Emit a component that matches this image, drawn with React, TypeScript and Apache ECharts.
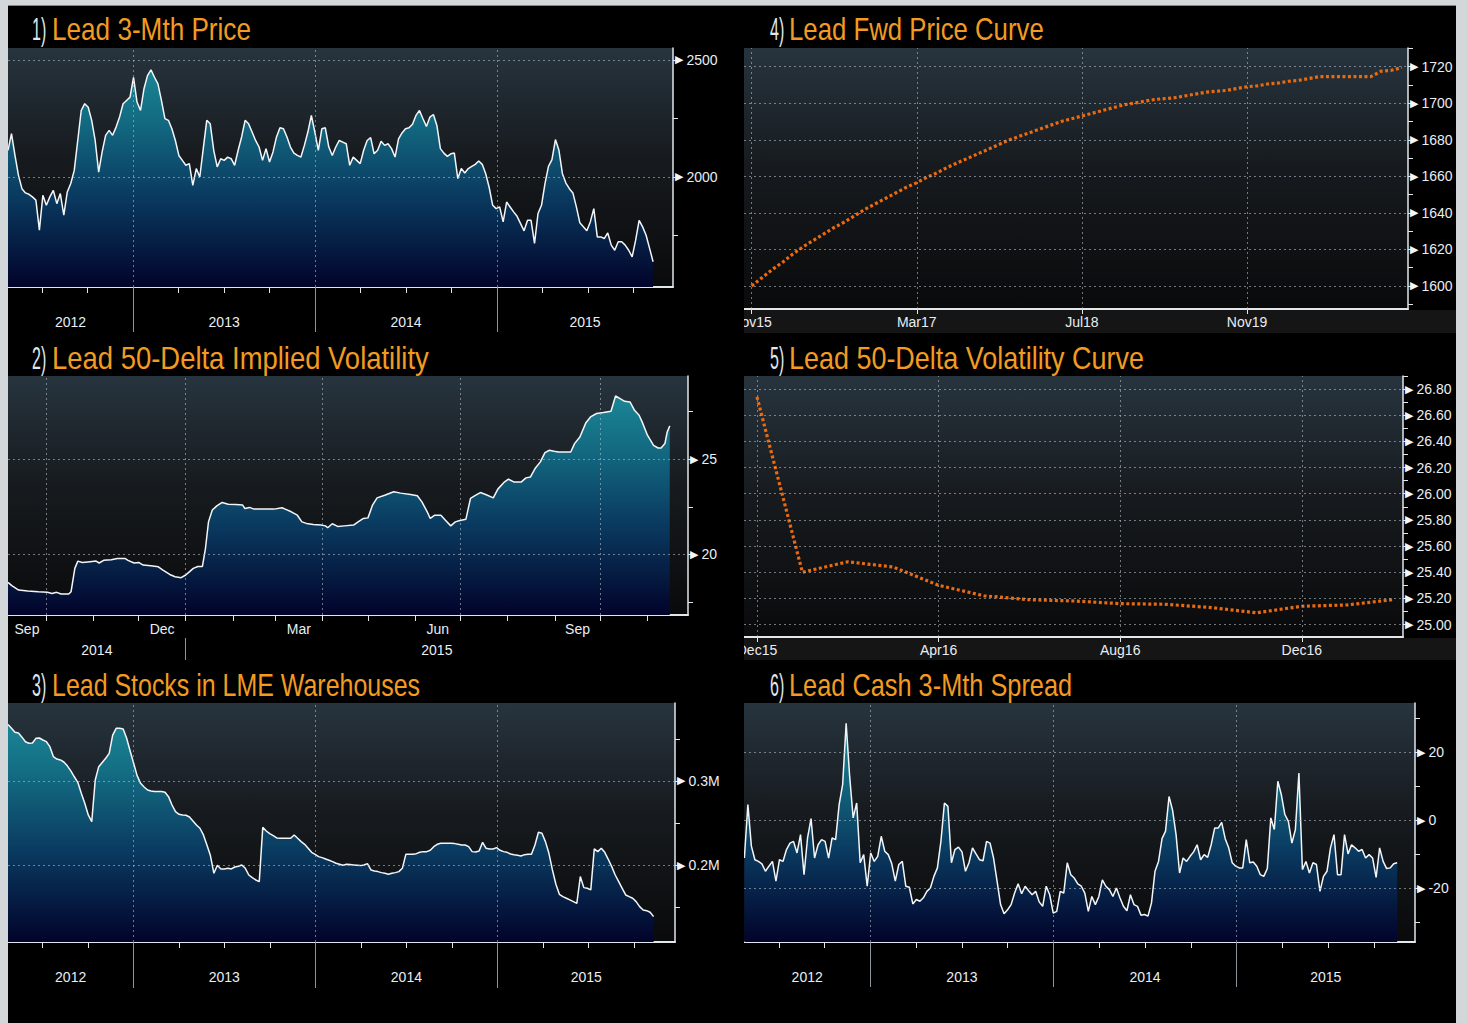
import React, { useEffect, useRef } from 'react';
import * as echarts from 'echarts';

// ---------------- style constants ----------------
const FONT = "'Liberation Sans', Arial, sans-serif";
const AXIS_COLOR = '#e2e7eb';
const LABEL_COLOR = '#e9eef3';
const SEP_COLOR = '#8d949a';
const GRID_LINE = { color: 'rgba(176,184,192,0.62)', type: [2, 3], width: 1 };
const TITLE_COLOR = '#f29b20';
const NUM_COLOR = '#dfe7ef';

// ---------------- data ----------------
// Weekly observations (panels 1, 3, 6) starting late April 2012 (decimal year)
const weeklyStart = 2012.312;
const weekYears = 7 / 365.25;

// 1) Lead 3-Mth price (USD/t), weekly
const priceValues = [
  2114, 2185, 2092, 2007, 1950, 1932, 1926, 1915, 1901, 1773,
  1922, 1879, 1915, 1943, 1886, 1929, 1837, 1936, 1972, 2028,
  2156, 2284, 2313, 2298, 2242, 2156, 2021, 2107, 2178, 2199,
  2178, 2213, 2256, 2313, 2327, 2341, 2426, 2320, 2284, 2377,
  2433, 2458, 2426, 2398, 2327, 2249, 2242, 2206, 2156, 2092,
  2071, 2050, 2057, 1964, 2036, 2000, 2121, 2242, 2227, 2114,
  2043, 2078, 2071, 2085, 2078, 2050, 2114, 2171, 2242, 2227,
  2192, 2156, 2128, 2071, 2121, 2064, 2107, 2171, 2210, 2206,
  2171, 2128, 2102, 2092, 2085, 2135, 2192, 2263, 2192, 2114,
  2206, 2210, 2128, 2092, 2128, 2156,
  2149, 2142, 2050, 2085, 2071, 2057, 2114, 2156, 2168, 2099,
  2114, 2153, 2135, 2142, 2121, 2085, 2163, 2188, 2206, 2210,
  2225, 2263, 2284, 2249, 2216, 2256, 2267, 2220, 2121, 2102,
  2088, 2099, 2102, 1993, 2036, 2017, 2036, 2045, 2054, 2068,
  2054, 2014, 1955, 1879, 1865, 1872, 1808, 1893, 1872, 1851,
  1832, 1801, 1770, 1815, 1815, 1716, 1844, 1879, 1972, 2045,
  2074, 2160, 2114, 2014, 1974, 1950, 1932, 1872, 1804, 1787,
  1770, 1808, 1865, 1744, 1744, 1737, 1761, 1709, 1687, 1723,
  1723, 1709, 1687, 1659, 1730, 1815, 1787, 1751, 1695, 1638,
];

// 3) Lead stocks in LME warehouses (thousand tonnes), weekly
const stockValues = [
  367, 362.5, 357.7, 356.9, 352, 346.6, 344.7, 345, 350.6, 351,
  348.6, 346.6, 340.7, 328.9, 326, 325, 322.5, 318, 312, 305,
  298.4, 285.4, 273.5, 259.7, 251.8, 301.2, 317, 322, 326.9, 332.8,
  354.5, 362.5, 362.5, 361.7, 350.6, 335.6, 321, 306.3, 297.2, 292.9,
  289.3, 288.1, 287.4, 287.4, 287.4, 286.6, 281.4, 271.5, 263.6, 260.5,
  259.7, 259.3, 257.3, 252.6, 247.8, 243.9, 236, 224.1, 211.5, 190.5,
  200, 195.7, 195.7, 196.4, 195.7, 198, 198.8, 200.4, 196.4, 188.5,
  185.4, 182.6, 180.6, 245, 240.7, 237.5, 235.2, 232.4, 232, 232,
  232, 232, 236, 232, 228.1, 224.9, 220.2, 215.4, 213, 210.3,
  209.1, 207.5, 205.9, 204.3, 202.4, 201.2,
  200, 201.2, 200.8, 200.4, 200, 199.6, 200.4, 202, 194.5, 193.3,
  192.5, 191.3, 190.5, 189.3, 190.5, 191.3, 192.5, 196.4, 213, 213,
  213, 213.8, 215.4, 216.2, 216.2, 217.8, 222.1, 224.9, 226.1, 226.1,
  226.1, 226.1, 225.7, 224.9, 224.1, 224.1, 222.1, 216.2, 215.8, 217,
  227.3, 220.2, 219.4, 219.4, 220.9, 217.8, 216.2, 215.4, 213.4, 212.6,
  211.9, 211.1, 212.6, 213, 213, 224.1, 239.1, 237.9, 228.1, 214.2,
  194.5, 177.5, 165.6, 162.8, 160.9, 158.9, 156.9, 154.9, 186.6, 173.5,
  172.7, 170.8, 219.4, 216.2, 220.2, 215.4, 207.1, 198.4, 188.5, 180.6,
  172.7, 164.8, 162.8, 160.9, 156.9, 151, 147, 146.2, 144.3, 139.1,
];

// 6) Lead cash 3-Mth spread (USD/t), weekly
const spreadValues = [
  -11.1, 4.6, -7.6, -11.6, -12.1, -12.8, -15, -13.5, -12.1, -17.9,
  -11.6, -12.1, -8.6, -6.7, -6.2, -9.6, -4.2, -16, -5.2, 0.5,
  -11.1, -7.2, -5.7, -6.2, -11.1, -5.2, -5.7, 4.6, 10.5, 28.5,
  12.9, 0.7, 5.1, -12.5, -10.1, -19.4, -9.6, -12.1, -10.6, -4.7,
  -9.1, -10.1, -12.8, -17.9, -13, -12.1, -19.4, -19.7, -24.6, -23.3,
  -23.8, -22.8, -20.9, -19.9, -16.5, -14, -6.2, 5.1, 4.1, -12.5,
  -8.6, -7.9, -9.3, -15, -12.5, -8.1, -9.9, -11.6, -11.9, -6.2,
  -6.7, -11.1, -17.9, -24.8, -27.5, -26.3, -24.8, -21.4, -18.7, -21.6,
  -19.4, -20.7, -21.9, -20.9, -24, -25.3, -19.4, -21.9, -27.3, -26.8,
  -20.9, -21.4, -12.5, -16, -17, -18.7, -19.4, -21.4,
  -26.8, -22.4, -24.8, -22.4, -17.5, -19.4, -20.4, -22.4, -19.9, -22.8,
  -25.3, -26.6, -21.9, -24.8, -25.3, -27.9, -27.7, -28.2, -24.3, -15,
  -12.1, -5.4, -3.2, 7, 3, -4.2, -15.5, -11.1, -12.1, -10.6,
  -9.3, -7.2, -11.6, -10.1, -10.9, -7.2, -2.3, -2.3, -0.6, -5.4,
  -8.1, -12.5, -13.5, -14, -14, -5.7, -12.5, -12.3, -13.5, -16,
  -16.5, -14.2, 0.7, -2.7, 11.5, 7.5, 1.7, -0.3, -6.7, -2.7,
  13.9, -14.5, -12.1, -15.5, -12.5, -13, -20.9, -16.5, -15, -8.1,
  -4.2, -16, -16, -4.2, -9.9, -7.2, -8.1, -9.1, -8.6, -11.1,
  -10.1, -11.1, -16.8, -8.1, -12.1, -14.2, -14, -12.8, -12.5,
];

// 2) Lead 50-delta implied volatility (%): day offset from 6 Sep 2014
const volDays = [
  0, 2.5, 7, 13, 20, 26, 29, 32, 35, 40, 41.5, 44, 46, 49, 54, 58, 60, 63, 68, 72,
  77, 79, 83, 86, 89, 94, 99, 102, 106.5, 110, 114, 117, 119, 122, 125, 128, 130, 132, 134.5, 137.5,
  141, 145, 150, 154.5, 156, 159, 162, 168.5, 175, 180.5, 182.5, 186.5, 190.5, 193.5, 196.5, 201, 206, 209, 210.5, 213.5,
  217, 221.5, 227.5, 230.5, 234, 237, 240, 243, 248, 254, 258.5, 265, 269.5, 272.5, 276, 278, 281, 285, 288, 291.5,
  294.5, 297.5, 301.5, 303, 304.5, 308, 311, 314.5, 319.5, 322.5, 326.5, 329.5, 333, 338, 341, 344, 347, 350.5, 353.5, 356.5,
  359.5, 362.5, 367.5, 370.5, 373, 376.5, 380.5, 383.5, 387.5, 392, 397, 400, 403, 406, 409.5, 412.5, 415.5, 417.5, 421, 425,
  428, 430, 432.5, 434, 435.7,
];
const volValues = [
  18.53, 18.36, 18.13, 18.08, 18.04, 18.01, 17.95, 18.01, 17.92, 17.92, 18.04, 19.27, 19.65, 19.58, 19.62, 19.65, 19.55, 19.69, 19.72, 19.79,
  19.79, 19.69, 19.55, 19.58, 19.44, 19.41, 19.35, 19.18, 18.95, 18.83, 18.78, 18.92, 19.06, 19.27, 19.37, 19.37, 20.31, 21.71, 22.33, 22.55,
  22.73, 22.64, 22.62, 22.59, 22.41, 22.47, 22.38, 22.38, 22.38, 22.45, 22.38, 22.24, 22.06, 21.71, 21.63, 21.57, 21.54, 21.5, 21.4, 21.61,
  21.47, 21.5, 21.54, 21.71, 21.89, 21.92, 22.59, 22.97, 23.11, 23.29, 23.22, 23.15, 23.08, 22.76, 22.24, 21.89, 22.06, 22.06, 21.8, 21.5,
  21.71, 21.78, 21.85, 22.41, 22.94, 23.11, 23.25, 23.15, 22.97, 23.43, 23.78, 23.95, 23.81, 23.81, 24.02, 24.07, 24.51, 24.86, 25.35, 25.47,
  25.42, 25.38, 25.38, 25.38, 25.82, 26.17, 26.92, 27.22, 27.4, 27.45, 27.52, 28.32, 28.18, 28.04, 28.01, 27.57, 27.31, 26.96, 26.26, 25.73,
  25.59, 25.59, 25.82, 26.43, 26.75,
];
const volLabelMonths = [[2014, 8], [2014, 11], [2015, 2], [2015, 5], [2015, 8]];
const volLabelNames = ['Sep', 'Dec', 'Mar', 'Jun', 'Sep'];

// 4) Lead forward price curve (USD/t), monthly from Nov 2015
const fwdValues = [
  1600, 1604.5, 1609, 1613, 1617.5, 1621.5, 1625, 1628.5, 1632, 1635,
  1638.5, 1642, 1645, 1648, 1651, 1654, 1656.5, 1659.5, 1662, 1665,
  1667.5, 1670, 1672.5, 1675, 1677.5, 1680, 1682, 1684, 1686, 1688,
  1690, 1691.5, 1693, 1694.5, 1696, 1697.5, 1699, 1700, 1701, 1702,
  1702.5, 1703, 1704, 1705, 1706, 1706.5, 1707, 1708, 1709, 1709.5,
  1710.5, 1711, 1712, 1712.5, 1713.5, 1714.5, 1714.5, 1714.5, 1714.5, 1714.5,
  1714.5, 1717.5, 1718, 1719.5,
];
const fwdLabelMonths = [0, 16, 32, 48];
const fwdLabelNames = ['Nov15', 'Mar17', 'Jul18', 'Nov19'];

// 5) Lead 50-delta volatility curve (%), monthly from Dec 2015
const volCurveValues = [26.74, 25.4, 25.48, 25.44, 25.3, 25.22, 25.19, 25.18, 25.16, 25.155, 25.13, 25.09, 25.14, 25.15, 25.19];
const volCurveLabelMonths = [0, 4, 8, 12];
const volCurveLabelNames = ['Dec15', 'Apr16', 'Aug16', 'Dec16'];

// Y tick / label values
const priceTickValues = [1750, 2000, 2250, 2500];
const priceLabelValues = [2000, 2500];
const stockTickValues = [150, 200, 250, 300, 350];
const stockLabelValues = [200, 300];
const spreadTickValues = [-30, -20, -10, 0, 10, 20, 30];
const spreadLabelValues = [-20, 0, 20];
const volTickValues = [17.5, 20, 22.5, 25, 27.5];
const volLabelValues = [20, 25];
const fwdTickValues = [1590, 1600, 1610, 1620, 1630, 1640, 1650, 1660, 1670, 1680, 1690, 1700, 1710, 1720, 1730];
const fwdLabelValues = [1600, 1620, 1640, 1660, 1680, 1700, 1720];
const volCurveTickValues = [25.0, 25.1, 25.2, 25.3, 25.4, 25.5, 25.6, 25.7, 25.8, 25.9, 26.0, 26.1, 26.2, 26.3, 26.4, 26.5, 26.6, 26.7, 26.8, 26.9];
const volCurveLabelValues = [25.0, 25.2, 25.4, 25.6, 25.8, 26.0, 26.2, 26.4, 26.6, 26.8];

// ---------------- helpers ----------------
function plotBackground() {
  return new echarts.graphic.LinearGradient(0, 0, 0, 1, [
    { offset: 0, color: '#27343e' },
    { offset: 0.45, color: '#171b1f' },
    { offset: 1, color: '#0a0a0b' },
  ]);
}

function areaFill(g: any) {
  return new echarts.graphic.LinearGradient(0, g.top, 0, g.top + g.height, [
    { offset: 0, color: '#1e909d' },
    { offset: 0.3, color: '#136b82' },
    { offset: 0.62, color: '#0a3a60' },
    { offset: 1, color: '#02032a' },
  ], true);
}

let measureCtx: CanvasRenderingContext2D | null = null;
function textWidth(text: string, size: number) {
  if (!measureCtx) measureCtx = document.createElement('canvas').getContext('2d');
  if (!measureCtx) return text.length * size * 0.5;
  measureCtx.font = `${size}px ${FONT}`;
  return measureCtx.measureText(text).width;
}

// number + title; the title is horizontally condensed to the width it has in the reference
function titleGraphic(num: string, text: string, numX: number, textX: number, targetW: number) {
  const scale = Math.min(0.95, Math.max(0.6, targetW / textWidth(text, 32)));
  return [
    { type: 'text', x: numX, y: 23, scaleX: 0.5, silent: true,
      style: { text: num, fill: NUM_COLOR, fontSize: 32, fontFamily: FONT, verticalAlign: 'middle', align: 'left' } },
    { type: 'text', x: textX, y: 23, scaleX: scale, silent: true,
      style: { text, fill: TITLE_COLOR, fontSize: 32, fontFamily: FONT, verticalAlign: 'middle', align: 'left' } },
  ];
}

function rightAxis(min: number, max: number, ticks: number[], labels: number[], fmt: (v: number) => string) {
  return {
    type: 'value', position: 'right', min, max,
    axisLine: { show: true, onZero: false, lineStyle: { color: AXIS_COLOR, width: 1.5 } },
    axisTick: { show: true, customValues: ticks, length: 5, lineStyle: { color: AXIS_COLOR, width: 1 } },
    axisLabel: {
      show: true, customValues: labels, margin: 2,
      formatter: (v: number) => `{a|\u25B6}{b|${fmt(v)}}`,
      rich: {
        a: { fontSize: 11, fontFamily: 'DejaVu Sans', color: '#f4f6f8', padding: [0, 3, 0, 0] },
        b: { fontSize: 14, fontFamily: FONT, color: LABEL_COLOR },
      },
    },
    splitLine: { show: false },
  };
}

function yearStarts(min: number, max: number) {
  const out: number[] = [];
  for (let y = Math.ceil(min); y <= max; y++) out.push(y);
  return out;
}

function yearAxes(min: number, max: number, sepLen: number) {
  const quarters: number[] = [];
  for (let q = Math.ceil(min * 4); q / 4 <= max; q++) quarters.push(q / 4);
  const mids: number[] = [];
  for (let y = Math.floor(min); y <= Math.floor(max); y++) mids.push((Math.max(y, min) + Math.min(y + 1, max)) / 2);
  return [
    {
      type: 'value', position: 'bottom', min, max,
      axisLine: { show: true, onZero: false, lineStyle: { color: AXIS_COLOR, width: 2 } },
      axisTick: { show: true, customValues: quarters, length: 6, lineStyle: { color: AXIS_COLOR, width: 1 } },
      axisLabel: { show: false }, splitLine: { show: false },
    },
    {
      type: 'value', position: 'bottom', min, max,
      axisLine: { show: false, onZero: false },
      axisTick: { show: true, customValues: yearStarts(min, max), length: sepLen, lineStyle: { color: SEP_COLOR, width: 1 } },
      axisLabel: {
        show: true, customValues: mids, margin: 28, formatter: (v: number) => String(Math.floor(v)),
        color: LABEL_COLOR, fontSize: 14, fontFamily: FONT,
      },
      splitLine: { show: false },
    },
  ];
}

function monthAxis(min: number, max: number, months: number[], names: string[]) {
  return {
    type: 'value', position: 'bottom', min, max,
    axisLine: { show: true, onZero: false, lineStyle: { color: AXIS_COLOR, width: 2 } },
    axisTick: { show: true, customValues: months, length: 5, lineStyle: { color: AXIS_COLOR, width: 1 } },
    axisLabel: {
      show: true, customValues: months, margin: 6,
      formatter: (v: number) => names[months.indexOf(v)] ?? '',
      color: LABEL_COLOR, fontSize: 14, fontFamily: FONT,
    },
    splitLine: { show: false },
  };
}

function gridMarks(xs: number[], ys: number[]) {
  return {
    silent: true, symbol: ['none', 'none'], label: { show: false }, lineStyle: GRID_LINE,
    emphasis: { disabled: true }, animation: false,
    data: [...xs.map((v) => ({ xAxis: v })), ...ys.map((v) => ({ yAxis: v }))],
  };
}

function areaSeries(data: number[][], g: any, marks: any) {
  return {
    type: 'line', data, xAxisIndex: 0, yAxisIndex: 0, showSymbol: false, symbol: 'none',
    lineStyle: { color: '#f3f6f9', width: 1.5 },
    areaStyle: { color: areaFill(g), origin: 'start', opacity: 1 },
    markLine: marks, silent: true, animation: false,
  };
}

function dottedSeries(data: number[][], marks: any) {
  return {
    type: 'line', data, xAxisIndex: 0, yAxisIndex: 0, showSymbol: false, symbol: 'none',
    lineStyle: { color: '#ea6a10', width: 3.2, type: [3, 2.5], cap: 'butt' },
    markLine: marks, silent: true, animation: false,
  };
}

function baseOption(g: any, num: string, text: string, numX: number, textX: number, targetW: number) {
  return {
    animation: false,
    backgroundColor: 'transparent',
    textStyle: { fontFamily: FONT },
    tooltip: { show: false },
    grid: {
      ...g, show: true, backgroundColor: plotBackground(), borderWidth: 0,
      containLabel: false, outerBoundsMode: 'none',
    },
    graphic: titleGraphic(num, text, numX, textX, targetW),
  };
}

const weekly = (vals: number[]) => vals.map((v, i) => [weeklyStart + i * weekYears, v]);

// ---------------- panel options ----------------
function buildPanels() {
  // Panel 1
  const g1 = { left: 0, top: 42, width: 665, height: 239 };
  const x1: [number, number] = [2012.312, 2015.967];
  const o1 = {
    ...baseOption(g1, '1)', 'Lead 3-Mth Price', 24, 44, 199),
    xAxis: yearAxes(x1[0], x1[1], 45),
    yAxis: rightAxis(1530, 2551, priceTickValues, priceLabelValues, (v) => String(v)),
    series: [areaSeries(weekly(priceValues), g1, gridMarks(yearStarts(x1[0], x1[1]), priceLabelValues))],
  };

  // Panel 2
  const g2 = { left: 0, top: 41, width: 680, height: 239 };
  const DAY = 86400000;
  const base = Date.UTC(2014, 8, 6);
  const dayOf = (y: number, m: number, d: number) => (Date.UTC(y, m, d) - base) / DAY;
  const x2min = 0;
  const x2max = 447.7;
  const monthStarts: number[] = [];
  const quarterStarts: number[] = [];
  for (let k = 0; k < 18; k++) {
    const d = dayOf(2014, 8 + k, 1);
    if (d >= x2min && d <= x2max) {
      monthStarts.push(d);
      if ((8 + k) % 3 === 0) quarterStarts.push(d);
    }
  }
  const monthMids = volLabelMonths.map(([y, m]) =>
    (Math.max(dayOf(y, m, 1), x2min) + Math.min(dayOf(y, m + 1, 1), x2max)) / 2);
  const jan15 = dayOf(2015, 0, 1);
  const yearMids2 = [(x2min + jan15) / 2, (jan15 + x2max) / 2];
  const yearNames2 = ['2014', '2015'];
  const nearest = (arr: number[], v: number) => arr.findIndex((a) => Math.abs(a - v) < 0.01);
  const o2 = {
    ...baseOption(g2, '2)', 'Lead 50-Delta Implied Volatility', 24, 44, 377),
    xAxis: [
      {
        type: 'value', position: 'bottom', min: x2min, max: x2max,
        axisLine: { show: true, onZero: false, lineStyle: { color: AXIS_COLOR, width: 2 } },
        axisTick: { show: true, customValues: monthStarts, length: 6, lineStyle: { color: AXIS_COLOR, width: 1 } },
        axisLabel: {
          show: true, customValues: monthMids, margin: 7,
          formatter: (v: number) => volLabelNames[nearest(monthMids, v)] ?? '',
          color: LABEL_COLOR, fontSize: 14, fontFamily: FONT,
        },
        splitLine: { show: false },
      },
      {
        type: 'value', position: 'bottom', min: x2min, max: x2max, offset: 23,
        axisLine: { show: false, onZero: false },
        axisTick: { show: true, customValues: [jan15], length: 22, lineStyle: { color: SEP_COLOR, width: 1 } },
        axisLabel: {
          show: true, customValues: yearMids2, margin: 5,
          formatter: (v: number) => yearNames2[nearest(yearMids2, v)] ?? '',
          color: LABEL_COLOR, fontSize: 14, fontFamily: FONT,
        },
        splitLine: { show: false },
      },
    ],
    yAxis: rightAxis(16.82, 29.37, volTickValues, volLabelValues, (v) => String(v)),
    series: [areaSeries(volDays.map((d, i) => [d, volValues[i]]), g2, gridMarks(quarterStarts, volLabelValues))],
  };

  // Panel 3
  const g3 = { left: 0, top: 41, width: 667, height: 239 };
  const x3: [number, number] = [2012.312, 2015.975];
  const o3 = {
    ...baseOption(g3, '3)', 'Lead Stocks in LME Warehouses', 24, 44, 368),
    xAxis: yearAxes(x3[0], x3[1], 46),
    yAxis: rightAxis(109, 392.5, stockTickValues, stockLabelValues, (v) => (v / 1000).toFixed(1) + 'M'),
    series: [areaSeries(weekly(stockValues), g3, gridMarks(yearStarts(x3[0], x3[1]), stockLabelValues))],
  };

  // Panel 4
  const g4 = { left: 0, top: 42, width: 664, height: 261 };
  const o4 = {
    ...baseOption(g4, '4)', 'Lead Fwd Price Curve', 26, 45, 255),
    xAxis: monthAxis(-0.74, 63.6, fwdLabelMonths, fwdLabelNames),
    yAxis: rightAxis(1587.4, 1730.2, fwdTickValues, fwdLabelValues, (v) => String(v)),
    series: [dottedSeries(fwdValues.map((v, i) => [i, v]), gridMarks(fwdLabelMonths, fwdLabelValues))],
  };

  // Panel 5
  const g5 = { left: 0, top: 41, width: 659, height: 261 };
  const o5 = {
    ...baseOption(g5, '5)', 'Lead 50-Delta Volatility Curve', 26, 45, 355),
    xAxis: monthAxis(-0.286, 14.23, volCurveLabelMonths, volCurveLabelNames),
    yAxis: rightAxis(24.905, 26.9, volCurveTickValues, volCurveLabelValues, (v) => Number(v).toFixed(2)),
    series: [dottedSeries(volCurveValues.map((v, i) => [i, v]), gridMarks(volCurveLabelMonths, volCurveLabelValues))],
  };

  // Panel 6
  const g6 = { left: 0, top: 41, width: 671, height: 239 };
  const x6: [number, number] = [2012.31, 2015.974];
  const o6 = {
    ...baseOption(g6, '6)', 'Lead Cash 3-Mth Spread', 26, 45, 283),
    xAxis: yearAxes(x6[0], x6[1], 45),
    yAxis: rightAxis(-35.8, 34.5, spreadTickValues, spreadLabelValues, (v) => String(v)),
    series: [areaSeries(weekly(spreadValues), g6, gridMarks(yearStarts(x6[0], x6[1]), spreadLabelValues))],
  };

  return [
    { key: 'p1', box: { left: 8, top: 6, width: 736, height: 329 }, option: o1 },
    { key: 'p2', box: { left: 8, top: 335, width: 736, height: 327 }, option: o2 },
    { key: 'p3', box: { left: 8, top: 662, width: 736, height: 361 }, option: o3 },
    { key: 'p4', box: { left: 744, top: 6, width: 713, height: 329 }, option: o4 },
    { key: 'p5', box: { left: 744, top: 335, width: 713, height: 327 }, option: o5 },
    { key: 'p6', box: { left: 744, top: 662, width: 713, height: 361 }, option: o6 },
  ];
}

function EChart({ box, option }: { box: any; option: any }) {
  const ref = useRef<HTMLDivElement>(null);
  useEffect(() => {
    if (!ref.current) return;
    const chart = echarts.init(ref.current, undefined, { renderer: 'svg' });
    chart.setOption(option);
    return () => chart.dispose();
  }, [option]);
  return <div ref={ref} style={{ position: 'absolute', left: box.left, top: box.top, width: box.width, height: box.height }} />;
}

let PANELS: any[] | null = null;

export default function App() {
  if (!PANELS) PANELS = buildPanels();
  return (
    <div style={{ position: 'absolute', left: 0, top: 0, width: 1467, height: 1023, background: '#d3d7da', overflow: 'hidden' }}>
      <div style={{ position: 'absolute', left: 8, top: 5, width: 1448, height: 1017, background: '#000', borderTop: '1px solid #80868b' }} />
      <div style={{ position: 'absolute', left: 744, top: 310, width: 712, height: 23, background: '#151515' }} />
      <div style={{ position: 'absolute', left: 744, top: 638, width: 712, height: 22, background: '#151515' }} />
      {PANELS.map((p) => (
        <EChart key={p.key} box={p.box} option={p.option} />
      ))}
    </div>
  );
}
